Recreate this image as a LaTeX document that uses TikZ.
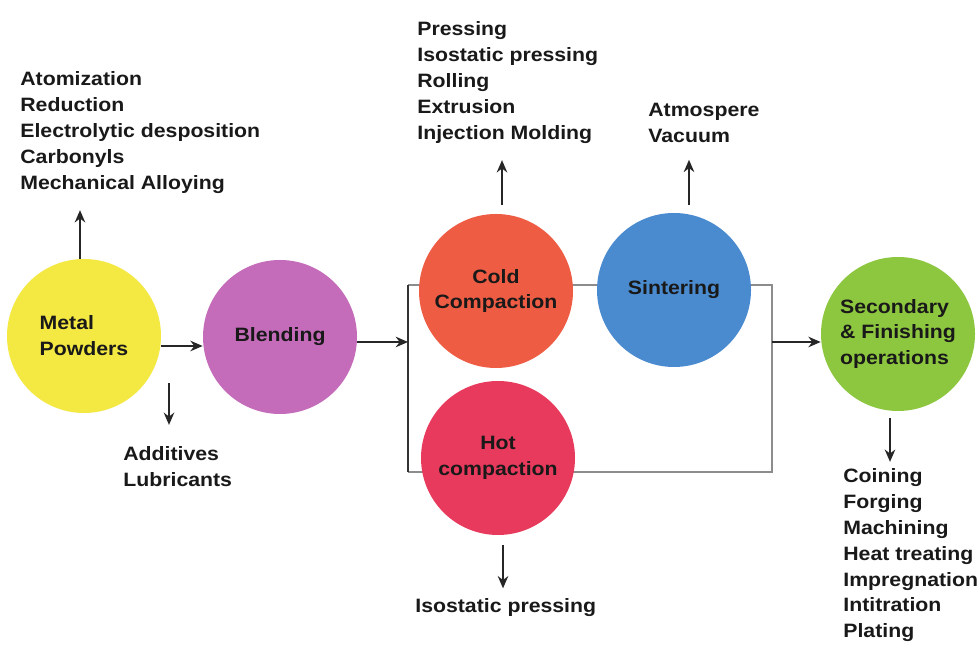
\documentclass[tikz,border=0pt]{standalone}
\usepackage{fontspec}
\setmainfont{Liberation Sans}[FakeStretch=1.1]
\usepackage{xcolor}
\usepackage{tikz}
\usetikzlibrary{positioning, calc, arrows.meta}

\definecolor{powderyellow}{HTML}{F4E842}
\definecolor{blendpurple}{HTML}{C46BBA}
\definecolor{coldred}{HTML}{EE5C44}
\definecolor{sinterblue}{HTML}{4A8BD0}
\definecolor{hotred}{HTML}{E83A5C}
\definecolor{finishgreen}{HTML}{8DC63F}

\tikzset{
  stage/.style={circle, minimum size=3.08cm, inner sep=0pt, align=center,
    font=\fontsize{11pt}{14.75pt}\selectfont\bfseries, text=black!90},
  steplist/.style={anchor=north west, inner sep=0pt, align=left,
    font=\fontsize{11pt}{14.75pt}\selectfont\bfseries, text=black!90},
  arr/.style={-{Stealth[length=7pt,width=6pt]}, line width=1pt, black!85},
  rail/.style={line width=0.7pt, black!45}
}

\begin{document}
\begin{tikzpicture}
        \path[use as bounding box, fill=white] (0,0) rectangle (19.58,13.26);

        % Frame round the two compaction routes
        \coordinate (tl) at (8.16,7.56);
        \coordinate (tr) at (15.44,7.56);
        \coordinate (br) at (15.44,3.82);
        \coordinate (bl) at (8.16,3.82);
        \draw[rail] (tl) -- (tr) -- (br) -- (bl);
        \draw[rail, black!80] (tl) -- (bl);
        \coordinate (inL) at (8.16,6.42);
        \coordinate (outR) at (15.44,6.42);

        % Process stages
        \node[stage, fill=powderyellow, align=left] (metal) at (1.68,6.54) {Metal\\Powders};
        \node[stage, fill=blendpurple] (blend) at (5.60,6.52) {Blending};
        \node[stage, fill=coldred] (cold) at (9.92,7.44) {Cold\\Compaction};
        \node[stage, fill=sinterblue] (sinter) at (13.48,7.46) {Sintering};
        \node[stage, fill=hotred] (hot) at (9.96,4.10) {Hot\\compaction};
        \node[stage, fill=finishgreen, align=left] (finish) at (17.96,6.58) {Secondary\\\& Finishing\\operations};

        % Lists of methods
        \node[steplist] (powderlist) at (0.40,11.84) {Atomization\\Reduction\\Electrolytic desposition\\Carbonyls\\Mechanical Alloying};
        \node[steplist] (addlist) at (2.46,4.34) {Additives\\Lubricants};
        \node[steplist] (coldlist) at (8.34,12.84) {Pressing\\Isostatic pressing\\Rolling\\Extrusion\\Injection Molding};
        \node[steplist] (sinterlist) at (12.96,11.20) {Atmospere\\Vacuum};
        \node[steplist] (hotlist) at (8.30,1.30) {Isostatic pressing};
        \node[steplist] (finishlist) at (16.86,3.90) {Coining\\Forging\\Machining\\Heat treating\\Impregnation\\Intitration\\Plating};

        % Main flow
        \coordinate (mb) at ([yshift=-0.2cm]metal.east);
        \draw[arr] (mb) -- (mb -| blend.west);
        \draw[arr] (blend.east |- inL) -- (inL);
        \draw[arr] (outR) -- (outR -| finish.west);

        % Arrows to the lists
        \coordinate (metalup) at ([xshift=-0.08cm]metal.north);
        \coordinate (addtop) at ([xshift=1.70cm,yshift=-0.94cm]metal.center);
        \coordinate (coldup) at ([xshift=0.12cm,yshift=0.18cm]cold.north);
        \coordinate (sinterup) at ([xshift=0.30cm,yshift=0.16cm]sinter.north);
        \coordinate (hotdown) at ([xshift=0.10cm,yshift=-0.20cm]hot.south);
        \coordinate (finishdown) at ([xshift=-0.16cm,yshift=-0.14cm]finish.south);
        \draw[arr, shorten >=9.5pt] (metalup) -- (metalup |- powderlist.south);
        \draw[arr, shorten >=12pt] (addtop) -- (addtop |- addlist.north);
        \draw[arr, shorten >=9.5pt] (coldup) -- (coldup |- coldlist.south);
        \draw[arr, shorten >=9.5pt] (sinterup) -- (sinterup |- sinterlist.south);
        \draw[arr, shorten >=5.5pt] (hotdown) -- (hotdown |- hotlist.north);
        \draw[arr, shorten >=3.5pt] (finishdown) -- (finishdown |- finishlist.north);
\end{tikzpicture}
\end{document}
